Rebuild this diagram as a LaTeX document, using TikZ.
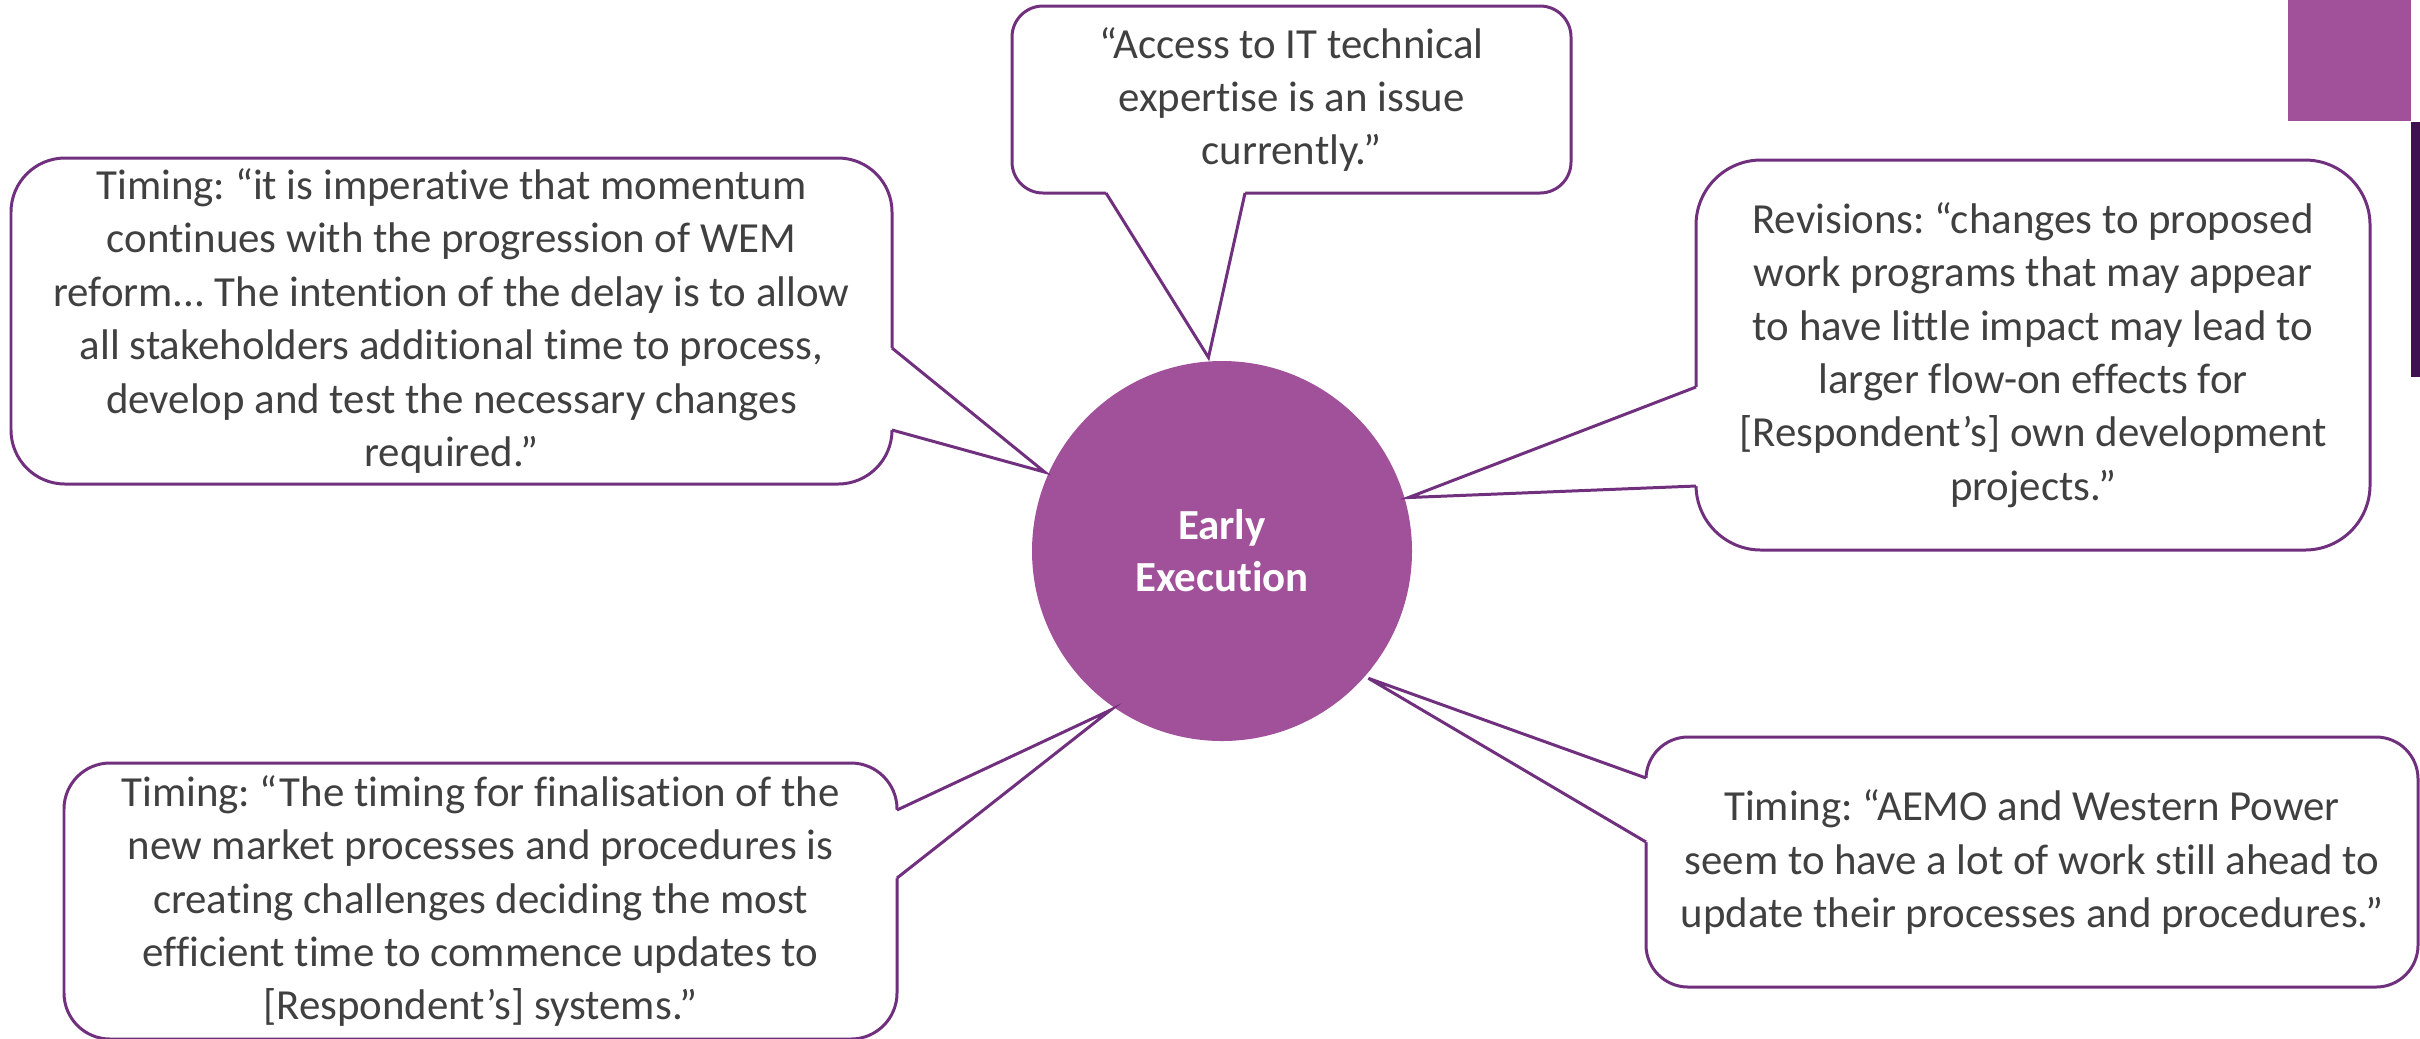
\documentclass[tikz,border=0pt]{standalone}
\usepackage{fontspec}
\setmainfont{Carlito}[Ligatures=CommonOff]
\usetikzlibrary{positioning, calc}

\definecolor{hubpurple}{RGB}{161,81,154}
\definecolor{edgepurple}{RGB}{112,48,126}
\definecolor{barpurple}{RGB}{63,17,81}
\definecolor{quotegray}{RGB}{64,64,64}
\frenchspacing

\begin{document}
\begin{tikzpicture}[x=1cm, y=-1cm, font=\fontsize{12.2}{15.2}\selectfont]

        % --- styles ---
        \tikzstyle{quotebox} = [rectangle, draw=edgepurple, line width=0.85pt, fill=white, text=quotegray, align=center, inner sep=0pt, outer sep=0pt]
        \tikzstyle{tail} = [draw=edgepurple, line width=0.85pt, line join=miter]

        \useasboundingbox (0,0) rectangle (24.20,10.38);

        % --- corner marks (top right) ---
        \fill[hubpurple] (22.88,0) rectangle (24.11,1.21);
        \fill[barpurple] (24.11,1.22) rectangle (24.20,3.77);

        % --- hub ---
        \node (hub) [circle, fill=hubpurple, minimum size=3.8cm, inner sep=0pt, outer sep=0.04cm, text=white, font=\fontsize{12.2}{14.8}\selectfont\bfseries, align=center] at (12.22,5.51) {Early\\Execution};

        % --- quotes ---
        \node (access) [quotebox, minimum width=5.59cm, minimum height=1.87cm, rounded corners=0.31cm] at (12.915,0.995)
            {“Access to IT technical\\expertise is an issue\\currently.”};

        \node (momentum) [quotebox, minimum width=8.81cm, minimum height=3.26cm, rounded corners=0.54cm] at (4.515,3.21)
            {Timing: “it is imperative that momentum\\continues with the progression of WEM\\reform... The intention of the delay is to allow\\all stakeholders additional time to process,\\develop and test the necessary changes\\required.”};

        \node (revisions) [quotebox, minimum width=6.74cm, minimum height=3.90cm, rounded corners=0.65cm] at (20.33,3.55)
            {Revisions: “changes to proposed\\work programs that may appear\\to have little impact may lead to\\larger flow-on effects for\\{[Respondent’s] own development}\\projects.”};

        \node (aemo) [quotebox, minimum width=7.72cm, minimum height=2.50cm, rounded corners=0.42cm] at (20.32,8.62)
            {Timing: “AEMO and Western Power\\seem to have a lot of work still ahead to\\update their processes and procedures.”};

        \node (finalise) [quotebox, minimum width=8.33cm, minimum height=2.76cm, rounded corners=0.46cm] at (4.805,9.01)
            {Timing: “The timing for finalisation of the\\new market processes and procedures is\\creating challenges deciding the most\\efficient time to commence updates to\\{[Respondent’s] systems.”}};

        % --- tails: patch over the box edge, then the two sides ---
        \coordinate (access-a) at ($(access.south west)+(0.94,0)$);
        \coordinate (access-b) at ($(access.south west)+(2.33,0)$);
        \fill[white] ($(access-a)+(0,-0.03)$) -- (access-a) -- (hub.94) -- (access-b) -- ($(access-b)+(0,-0.03)$) -- cycle;
        \draw[tail] (access-a) -- (hub.94) -- (access-b);

        \coordinate (momentum-a) at ($(momentum.north east)+(0,1.90)$);
        \coordinate (momentum-b) at ($(momentum.north east)+(0,2.72)$);
        \fill[white] ($(momentum-a)+(-0.03,0)$) -- (momentum-a) -- (hub.156) -- (momentum-b) -- ($(momentum-b)+(-0.03,0)$) -- cycle;
        \draw[tail] (momentum-a) -- (hub.156) -- (momentum-b);

        \coordinate (revisions-a) at ($(revisions.north west)+(0,2.27)$);
        \coordinate (revisions-b) at ($(revisions.north west)+(0,3.26)$);
        \fill[white] ($(revisions-a)+(0.03,0)$) -- (revisions-a) -- (hub.16) -- (revisions-b) -- ($(revisions-b)+(0.03,0)$) -- cycle;
        \draw[tail] (revisions-a) -- (hub.16) -- (revisions-b);

        \coordinate (aemo-a) at ($(aemo.north west)+(0,0.41)$);
        \coordinate (aemo-b) at ($(aemo.north west)+(0,1.05)$);
        \fill[white] ($(aemo-a)+(0.03,0)$) -- (aemo-a) -- (hub.-41) -- (aemo-b) -- ($(aemo-b)+(0.03,0)$) -- cycle;
        \draw[tail] (aemo-a) -- (hub.-41) -- (aemo-b);

        \coordinate (finalise-a) at ($(finalise.north east)+(0,0.47)$);
        \coordinate (finalise-b) at ($(finalise.north east)+(0,1.15)$);
        \fill[white] ($(finalise-a)+(-0.03,0)$) -- (finalise-a) -- (hub.235) -- (finalise-b) -- ($(finalise-b)+(-0.03,0)$) -- cycle;
        \draw[tail] (finalise-a) -- (hub.235) -- (finalise-b);

\end{tikzpicture}
\end{document}
